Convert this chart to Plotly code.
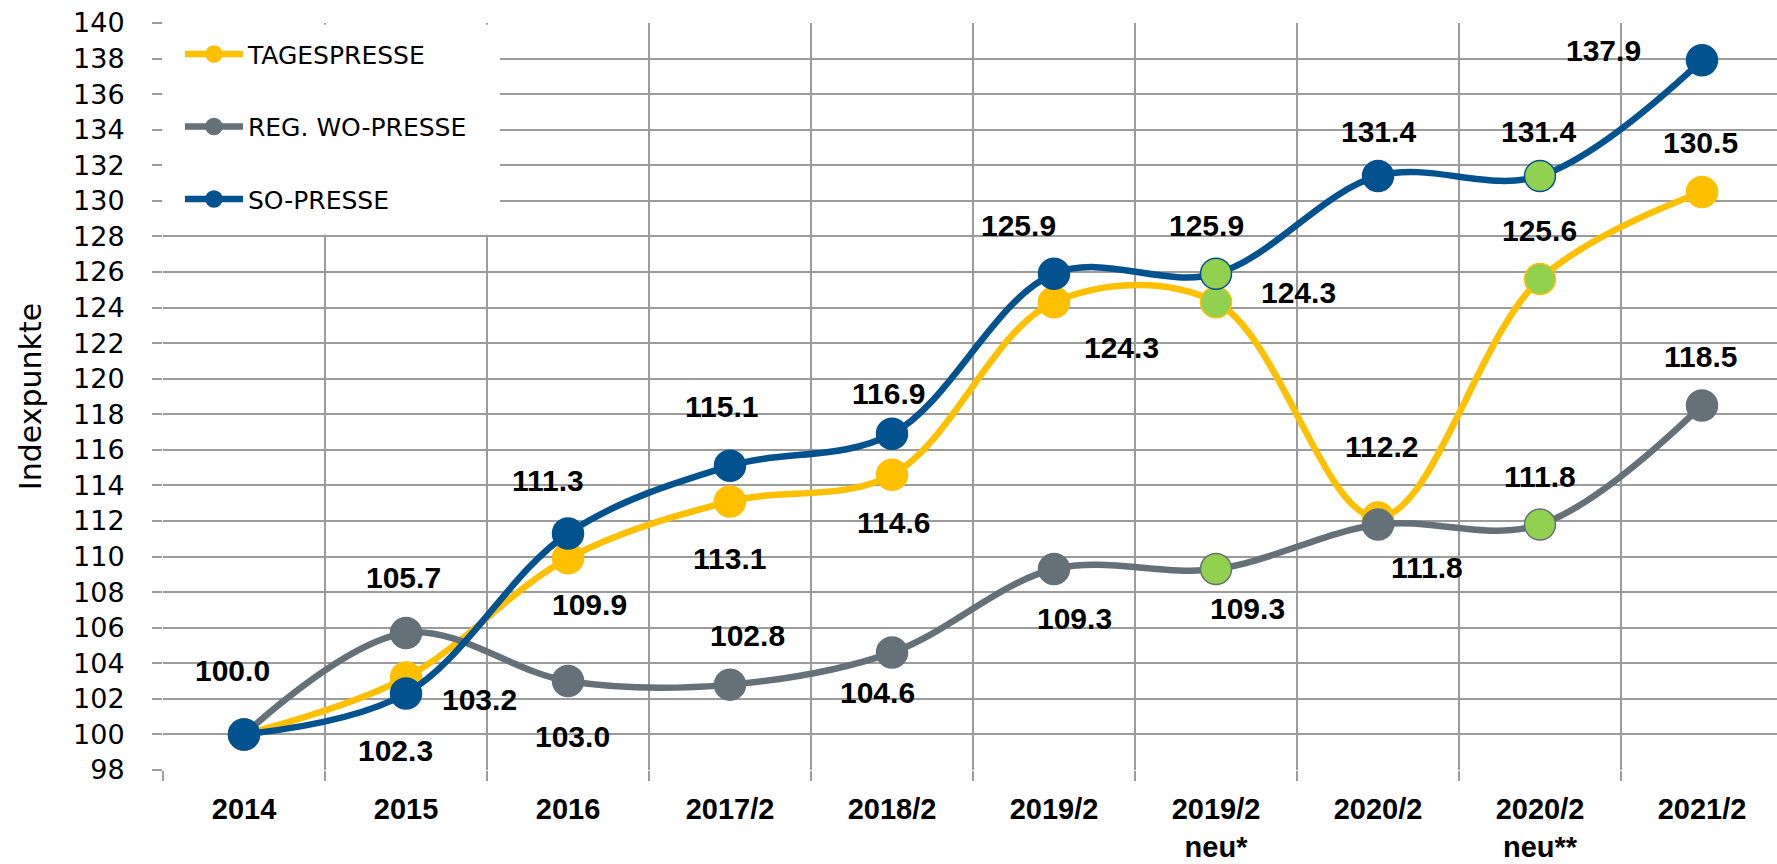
import plotly.graph_objects as go

# ---------------- data ----------------
categories = ["2014", "2015", "2016", "2017/2", "2018/2", "2019/2",
              "2019/2<br>neu*", "2020/2", "2020/2<br>neu**", "2021/2"]
tagespresse = [100.0, 103.2, 109.9, 113.1, 114.6, 124.3, 124.3, 112.2, 125.6, 130.5]
reg_wo_presse = [100.0, 105.7, 103.0, 102.8, 104.6, 109.3, 109.3, 111.8, 111.8, 118.5]
so_presse = [100.0, 102.3, 111.3, 115.1, 116.9, 125.9, 125.9, 131.4, 131.4, 137.9]
new_points = [6, 8]  # "neu" categories drawn with green markers

# ---------------- styles ----------------
YELLOW = "#FFC000"
GRAY = "#647179"
BLUE = "#02528F"
GREEN = "#92D050"
GRID = "#9C9C9C"

# data-label pixel offsets (dx right, dy down) per point; None = no label
off_tages = [(-12, -64), (73, 22), (21, 46), (-1, 57), (1, 48), (67, 45), (82, -10),
             (3, -71), (0, -49), (-1, -49)]
off_reg = [None, (-3, -56), (4, 55), (17, -49), (-15, 40), (20, 49), (31, 39),
           (49, 43), (0, -48), (-1, -49)]
off_so = [None, (-11, 57), (-20, -53), (-9, -59), (-4, -40), (-36, -48), (-10, -48),
          (0, -44), (-1, -44), (-98, -10)]

series = [
    ("TAGESPRESSE", tagespresse, YELLOW, off_tages),
    ("REG. WO-PRESSE", reg_wo_presse, GRAY, off_reg),
    ("SO-PRESSE", so_presse, BLUE, off_so),
]

x_idx = list(range(len(categories)))

fig = go.Figure()
annotations = []
for k, (name, vals, col, offs) in enumerate(series):
    mcolors = [GREEN if i in new_points else col for i in x_idx]
    fig.add_trace(go.Scatter(
        x=x_idx, y=vals, name=name, mode="lines+markers",
        legendgroup=f"g{k}",
        line=dict(color=col, width=6.5, shape="spline", smoothing=1.0),
        marker=dict(size=31, color=mcolors, line=dict(color=col, width=1.5)),
        hoverinfo="skip",
    ))
    for i, o in enumerate(offs):
        if o is None:
            continue
        annotations.append(dict(
            x=i, y=vals[i], xref="x", yref="y", text=f"{vals[i]:.1f}",
            showarrow=False, xshift=o[0], yshift=-o[1],
            font=dict(family="Liberation Sans", size=30, color="black", weight="bold"),
        ))

# white legend backdrop covering the grid in the upper-left corner
legend_box = dict(type="rect", xref="x", yref="y", x0=-0.52, x1=1.58, y0=128.1, y1=139.9,
                  fillcolor="white", line=dict(width=0), layer="between")

fig.update_layout(
    width=1777, height=864,
    margin=dict(l=163, r=0, t=23, b=94),
    paper_bgcolor="white", plot_bgcolor="white",
    annotations=annotations,
    shapes=[legend_box],
    showlegend=True,
    legend=dict(
        x=0.0105, y=0.989, xanchor="left", yanchor="top",
        bgcolor="rgba(0,0,0,0)", borderwidth=0,
        font=dict(family="DejaVu Sans", size=25, color="black"),
        itemwidth=58, tracegroupgap=37, traceorder="grouped",
    ),
    xaxis=dict(
        range=[-0.5, 9.463], tickmode="array", tickvals=x_idx, ticktext=categories,
        showgrid=False, zeroline=False, ticks="",
        tickfont=dict(family="Liberation Sans", size=29, color="black", weight="bold"),
        ticklabelstandoff=19,
        minor=dict(tick0=-0.5, dtick=1, showgrid=True, gridcolor=GRID, gridwidth=2,
                   ticks="outside", ticklen=10, tickcolor=GRID, tickwidth=2),
    ),
    yaxis=dict(
        range=[98, 140], tick0=98, dtick=2, showgrid=True, gridcolor=GRID, gridwidth=2,
        zeroline=False, ticks="outside", ticklen=10, tickcolor=GRID, tickwidth=2,
        tickfont=dict(family="DejaVu Sans", size=27, color="black"),
        ticklabelstandoff=22,
        title=dict(text="Indexpunkte", font=dict(family="DejaVu Sans", size=30, color="black"),
                   standoff=22),
    ),
)

fig.write_html("out.html")
